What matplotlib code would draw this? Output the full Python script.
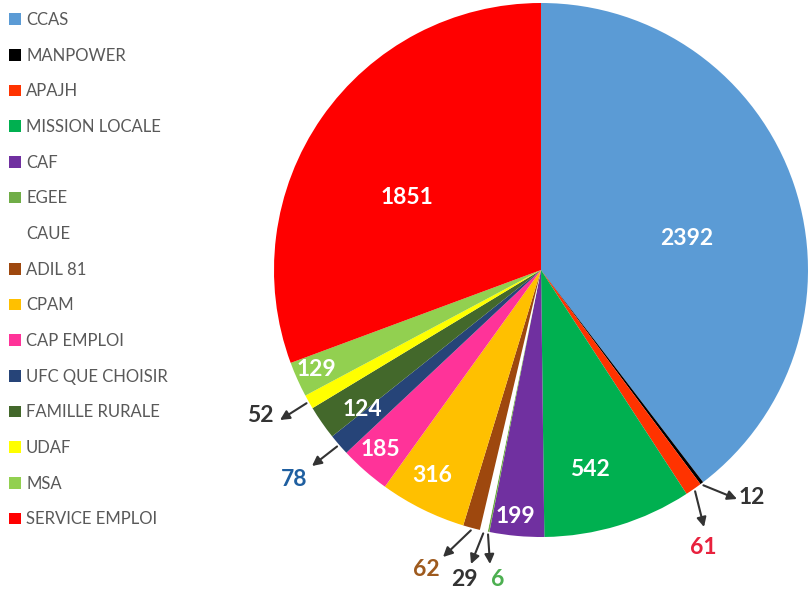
import numpy as np
import matplotlib
matplotlib.use('Agg')
import matplotlib.pyplot as plt
from matplotlib.patches import Patch

# data
categories = ['CCAS', 'MANPOWER', 'APAJH', 'MISSION LOCALE', 'CAF', 'EGEE', 'CAUE',
              'ADIL 81', 'CPAM', 'CAP EMPLOI', 'UFC QUE CHOISIR', 'FAMILLE RURALE',
              'UDAF', 'MSA', 'SERVICE EMPLOI']
values = [2392, 12, 61, 542, 199, 6, 29, 62, 316, 185, 78, 124, 52, 129, 1851]
colors = ['#5B9BD5', '#000000', '#FF3300', '#00B050', '#7030A0', '#70AD47', '#FFFFFF',
          '#9E480E', '#FFC000', '#FF3399', '#264478', '#43682B', '#FFFF00', '#92D050', '#FF0000']

# labels drawn inside the wedges: index -> (radial fraction, angle shift in degrees)
inside = {0: (0.56, 6.4), 3: (0.77, 3.1), 4: (0.93, 0.8), 8: (0.87, 1.6),
          9: (0.90, 0.5), 11: (0.85, -3.2), 13: (0.92, 0.2), 14: (0.57, -6.2)}
# labels drawn outside with an arrow: index -> (arrow end, text position, text colour)
outside = {
    1: ((737, 499), (752, 497), '#333333'),
    2: ((704, 527), (703, 547), '#E8213D'),
    7: ((443, 557), (426, 570), '#9E5A1E'),
    6: ((471, 564), (464, 580), '#333333'),
    5: ((490, 564), (498, 579), '#4CAF50'),
    12: ((280, 420), (260, 416), '#333333'),
    10: ((312, 466), (294, 479), '#1F5FA0'),
}

plt.rcParams['font.family'] = ['Lato', 'DejaVu Sans']

fig = plt.figure(figsize=(8.08, 5.93), dpi=100)
ax = fig.add_axes([0, 0, 1, 1])

cx, cy, R = 541, 270, 267
# y axis runs downwards, so startangle -90 is the top and counterclock turns clockwise on screen
wedges, _ = ax.pie(values, colors=colors, startangle=-90, counterclock=True,
                   center=(cx, cy), radius=R, frame=True,
                   wedgeprops=dict(linewidth=0))
ax.set_xlim(0, 808)
ax.set_ylim(593, 0)
ax.set_aspect('equal')
ax.axis('off')


def point(i, frac, shift=0.0):
    w = wedges[i]
    mid = np.deg2rad((w.theta1 + w.theta2) / 2 + shift)
    return cx + frac * R * np.cos(mid), cy + frac * R * np.sin(mid)


for i, (frac, shift) in inside.items():
    x, y = point(i, frac, shift)
    ax.text(x, y, str(values[i]), ha='center', va='center', color='white',
            fontsize=16.5, fontweight='bold')

for i, (end, txt, col) in outside.items():
    start = point(i, 1.01)
    ax.annotate('', xy=end, xytext=start,
                arrowprops=dict(arrowstyle='-|>', color='#333333', lw=1.5,
                                mutation_scale=14, shrinkA=0, shrinkB=0))
    ax.text(txt[0], txt[1], str(values[i]), ha='center', va='center', color=col,
            fontsize=16.5, fontweight='bold')

handles = [Patch(facecolor=c, edgecolor='none') for c in colors]
leg = fig.legend(handles, categories, loc='upper left', bbox_to_anchor=(9 / 808, 1 - 12 / 593),
                 frameon=False, fontsize=12, handlelength=0.72, handleheight=0.72,
                 handletextpad=0.3, labelspacing=1.18, borderpad=0, borderaxespad=0)
for t in leg.get_texts():
    t.set_color('#595959')

plt.savefig('out.png', dpi=100)
